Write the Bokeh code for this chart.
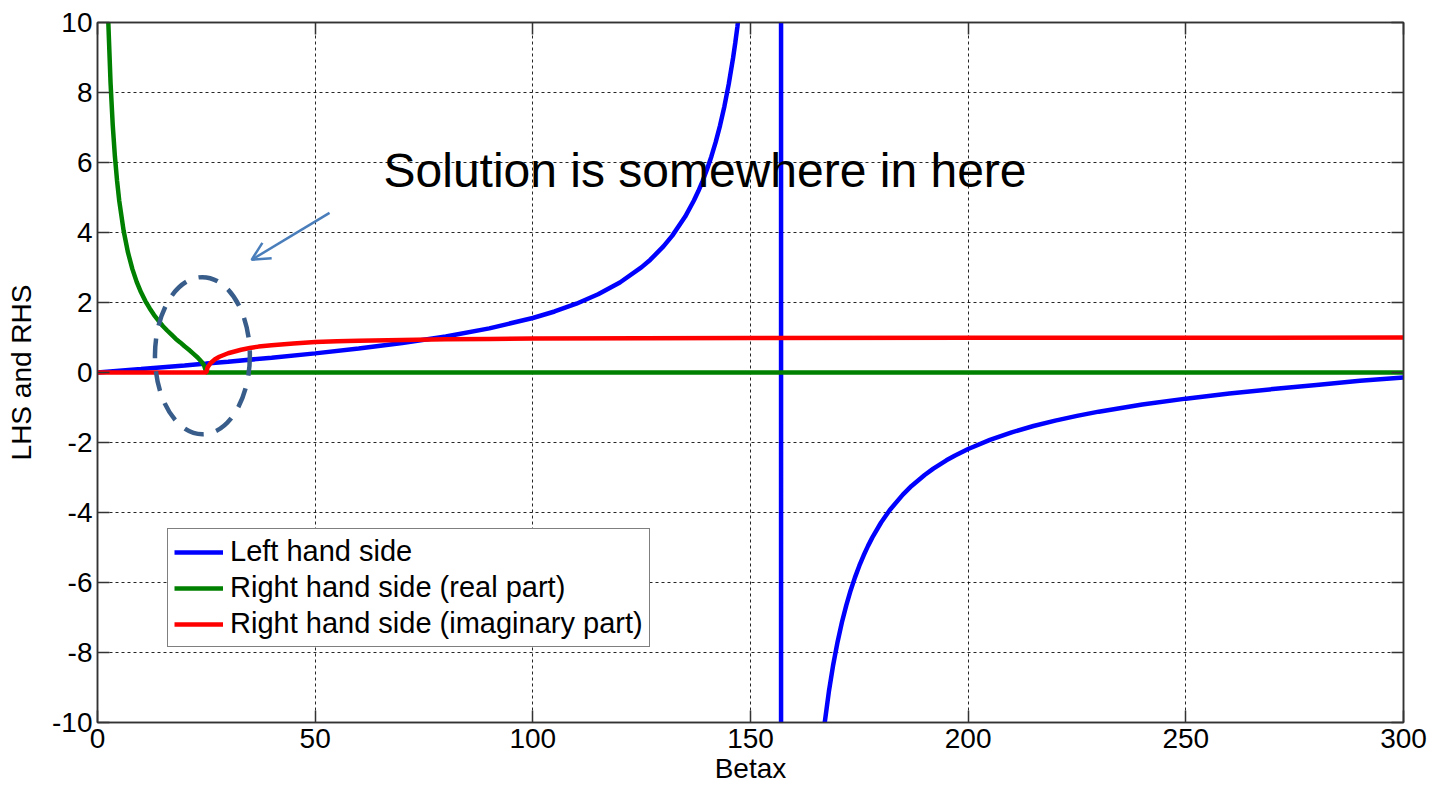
from bokeh.plotting import figure
from bokeh.models import (Range1d, LinearAxis, FixedTicker, Legend, LegendItem,
                          Label, Arrow, OpenHead)
from bokeh.embed import file_html
from bokeh.resources import INLINE

# ---------------- data ----------------
lhs_x = [0, 10, 20, 25, 30, 40, 50, 60, 70, 80, 90, 100, 105, 110, 115, 120, 125,
         127, 130, 132, 135, 137, 138, 139, 140, 141, 142, 143, 144, 145, 146,
         146.5, 147, 148, 150, 153, 156, 157, 157.1, 158, 160, 163, 165, 166, 167,
         168, 169, 170, 171, 172, 173, 174, 175, 176, 177, 178, 180, 182, 185,
         187, 190, 192, 195, 197, 200, 205, 210, 215, 220, 225, 230, 240, 250,
         260, 270, 280, 290, 300]
lhs_y = [0.0, 0.1003, 0.2027, 0.2553, 0.3093, 0.4228, 0.5463, 0.6841, 0.8423,
         1.0296, 1.2602, 1.5574, 1.7433, 1.9648, 2.2345, 2.5722, 3.0096, 3.2237,
         3.6021, 3.9033, 4.4552, 4.9131, 5.177, 5.4707, 5.798, 6.1654, 6.581,
         7.0555, 7.602, 8.238, 8.989, 9.4168, 9.887, 10.983, 14.101, 24.50, 92.62,
         1255.8, -4909.0, -108.65, -34.23, -16.87, -12.60, -11.18, -10.05, -9.12,
         -8.349, -7.697, -7.137, -6.652, -6.228, -5.854, -5.520, -5.222, -4.953,
         -4.710, -4.286, -3.929, -3.488, -3.242, -2.927, -2.745, -2.509, -2.371,
         -2.185, -1.925, -1.710, -1.529, -1.374, -1.239, -1.119, -0.916, -0.747,
         -0.602, -0.473, -0.356, -0.239, -0.143]

rhs_real_x = [2, 2.5, 3, 3.5, 4, 4.5, 5, 6, 7, 8, 9, 10, 11, 12, 13, 14, 15, 16,
              17, 18, 19, 20, 21, 22, 23, 24, 24.5, 25, 300]
rhs_real_y = [12.46, 9.95, 8.27, 7.07, 6.17, 5.47, 4.90, 4.05, 3.43, 2.96, 2.59,
              2.29, 2.04, 1.83, 1.64, 1.48, 1.33, 1.20, 1.08, 0.96, 0.86, 0.75,
              0.65, 0.54, 0.43, 0.29, 0.20, 0.0, 0.0]

rhs_imag_x = [0, 25, 25.3, 26, 27, 28, 30, 33, 35, 37, 40, 45, 50, 55, 60, 70, 80,
              90, 100, 125, 150, 200, 250, 300]
rhs_imag_y = [0.0, 0.0, 0.15, 0.27, 0.38, 0.45, 0.55, 0.65, 0.70, 0.74, 0.78, 0.83,
              0.87, 0.89, 0.91, 0.93, 0.95, 0.96, 0.97, 0.98, 0.986, 0.992, 0.995,
              0.997]

x_ticks = [0, 50, 100, 150, 200, 250, 300]
y_ticks = [-10, -8, -6, -4, -2, 0, 2, 4, 6, 8, 10]
series_labels = ["Left hand side", "Right hand side (real part)",
                 "Right hand side (imaginary part)"]
x_label = "Betax"
y_label = "LHS and RHS"
note_text = "Solution is somewhere in here"

# annotation anchors (data units)
NOTE_X, NOTE_Y = 65.7, 5.76
ELL_X, ELL_Y, ELL_W, ELL_H = 24.1, 0.48, 21.8, 4.49
ARR_X0, ARR_Y0, ARR_X1, ARR_Y1 = 53.3, 4.56, 35.4, 3.22

FONT = "Liberation Sans"
AXIS_COLOR = "#333333"

p = figure(width=1442, height=786, x_range=Range1d(0, 300), y_range=Range1d(-10, 10),
           output_backend="svg", toolbar_location=None,
           min_border_left=97, min_border_right=39, min_border_top=22,
           min_border_bottom=64)
p.background_fill_color = "white"
p.border_fill_color = "white"
p.outline_line_color = AXIS_COLOR
p.outline_line_width = 1.5

bottom_axis = p.below[0]
left_axis = p.left[0]
top_axis = LinearAxis(major_label_text_font_size="0px", major_label_text_alpha=0,
                      major_label_standoff=0)
right_axis = LinearAxis(major_label_text_font_size="0px", major_label_text_alpha=0,
                        major_label_standoff=0)
p.add_layout(top_axis, "above")
p.add_layout(right_axis, "right")

for ax in (bottom_axis, top_axis):
    ax.ticker = FixedTicker(ticks=x_ticks)
    ax.major_label_overrides = {t: str(t) for t in x_ticks}
for ax in (left_axis, right_axis):
    ax.ticker = FixedTicker(ticks=y_ticks)
    ax.major_label_overrides = {t: str(t) for t in y_ticks}
for ax in (bottom_axis, top_axis, left_axis, right_axis):
    ax.axis_line_color = AXIS_COLOR
    ax.axis_line_width = 1.5
    ax.major_tick_line_color = AXIS_COLOR
    ax.major_tick_line_width = 1.5
    ax.major_tick_in = 12
    ax.major_tick_out = 0
    ax.minor_tick_in = 0
    ax.minor_tick_out = 0
    ax.major_label_text_font = FONT
    ax.axis_label_text_font = FONT
    ax.axis_label_text_font_style = "normal"

for ax in (bottom_axis, left_axis):
    ax.major_label_text_color = "black"
    ax.axis_label_text_color = "black"
    ax.major_label_text_font_size = "28px"
    ax.axis_label_text_font_size = "28px"

bottom_axis.axis_label = x_label
left_axis.axis_label = y_label
bottom_axis.major_label_standoff = 6
left_axis.major_label_standoff = 5
bottom_axis.axis_label_standoff = 2
left_axis.axis_label_standoff = 12

p.grid.grid_line_color = "black"
p.grid.grid_line_alpha = 0.85
p.grid.grid_line_dash = "3 3"
p.grid.grid_line_width = 1

r_lhs = p.line(lhs_x, lhs_y, line_color="#0000FF", line_width=4.5)
r_re = p.line(rhs_real_x, rhs_real_y, line_color="#008000", line_width=4.5)
r_im = p.line(rhs_imag_x, rhs_imag_y, line_color="#FF0000", line_width=4.5)

p.ellipse(x=[ELL_X], y=[ELL_Y], width=ELL_W, height=ELL_H, fill_color=None,
          line_color="#385D8A", line_width=4.5, line_dash="20 13")

p.add_layout(Arrow(end=OpenHead(size=18, line_color="#4A7EBB", line_width=2.5),
                   x_start=ARR_X0, y_start=ARR_Y0, x_end=ARR_X1, y_end=ARR_Y1,
                   line_color="#4A7EBB", line_width=2.5))

p.add_layout(Label(x=NOTE_X, y=NOTE_Y, text=note_text, text_font=FONT,
                   text_font_size="48px", text_baseline="alphabetic",
                   text_align="left", text_color="black"))

legend = Legend(items=[LegendItem(label=series_labels[0], renderers=[r_lhs]),
                       LegendItem(label=series_labels[1], renderers=[r_re]),
                       LegendItem(label=series_labels[2], renderers=[r_im])],
                location=(70, 75), orientation="vertical")
legend.label_text_font = FONT
legend.label_text_font_size = "29px"
legend.label_text_color = "black"
legend.glyph_width = 49
legend.glyph_height = 30
legend.label_standoff = 7
legend.padding = 6
legend.spacing = 3
legend.margin = 0
legend.border_line_color = "black"
legend.border_line_width = 1.2
legend.background_fill_color = "white"
legend.background_fill_alpha = 1
p.add_layout(legend, "center")

open("out.html", "w").write(file_html(p, INLINE))
